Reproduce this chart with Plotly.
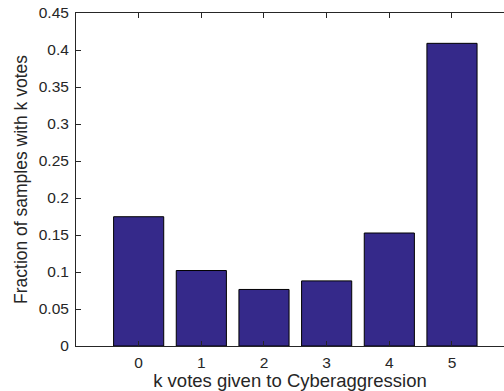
import plotly.graph_objects as go

categories = [0, 1, 2, 3, 4, 5]
fractions = [0.1747, 0.1020, 0.0764, 0.0880, 0.1527, 0.4090]
y_ticks = [0, 0.05, 0.1, 0.15, 0.2, 0.25, 0.3, 0.35, 0.4, 0.45]
y_tick_labels = ["0", "0.05", "0.1", "0.15", "0.2", "0.25", "0.3", "0.35", "0.4", "0.45"]

axis_color = "#262626"
font_family = "Liberation Sans, Arial, Helvetica, sans-serif"

fig = go.Figure(
    go.Bar(
        x=categories,
        y=fractions,
        width=0.8,
        marker=dict(color="#35298a", line=dict(color="#000000", width=1)),
    )
)

fig.update_layout(
    width=504,
    height=391,
    margin=dict(l=76, r=0, t=13, b=45),
    paper_bgcolor="white",
    plot_bgcolor="white",
    showlegend=False,
    font=dict(family=font_family, color=axis_color, size=15.5),
)

fig.update_xaxes(
    range=[-1, 5.83],
    tickvals=categories,
    ticktext=[str(c) for c in categories],
    ticks="inside",
    ticklen=5,
    tickcolor=axis_color,
    showline=True,
    linecolor=axis_color,
    linewidth=1,
    mirror="ticks",
    showgrid=False,
    zeroline=False,
    automargin=False,
    ticklabelstandoff=2,
    tickfont=dict(size=15.5),
    title=dict(text="k votes given to Cyberaggression", font=dict(size=18.5), standoff=0),
)

fig.update_yaxes(
    range=[0, 0.45],
    tickvals=y_ticks,
    ticktext=y_tick_labels,
    ticks="inside",
    ticklen=5,
    tickcolor=axis_color,
    showline=True,
    linecolor=axis_color,
    linewidth=1,
    mirror=False,
    showgrid=False,
    zeroline=False,
    automargin=False,
    ticklabelstandoff=3,
    tickfont=dict(size=15.5),
    title=dict(text="Fraction of samples with k votes", font=dict(size=17.5), standoff=6),
)

fig.write_html(
    "out.html",
    config={"displayModeBar": False},
    post_script="document.body.style.margin='0';document.body.style.overflow='hidden';",
)
